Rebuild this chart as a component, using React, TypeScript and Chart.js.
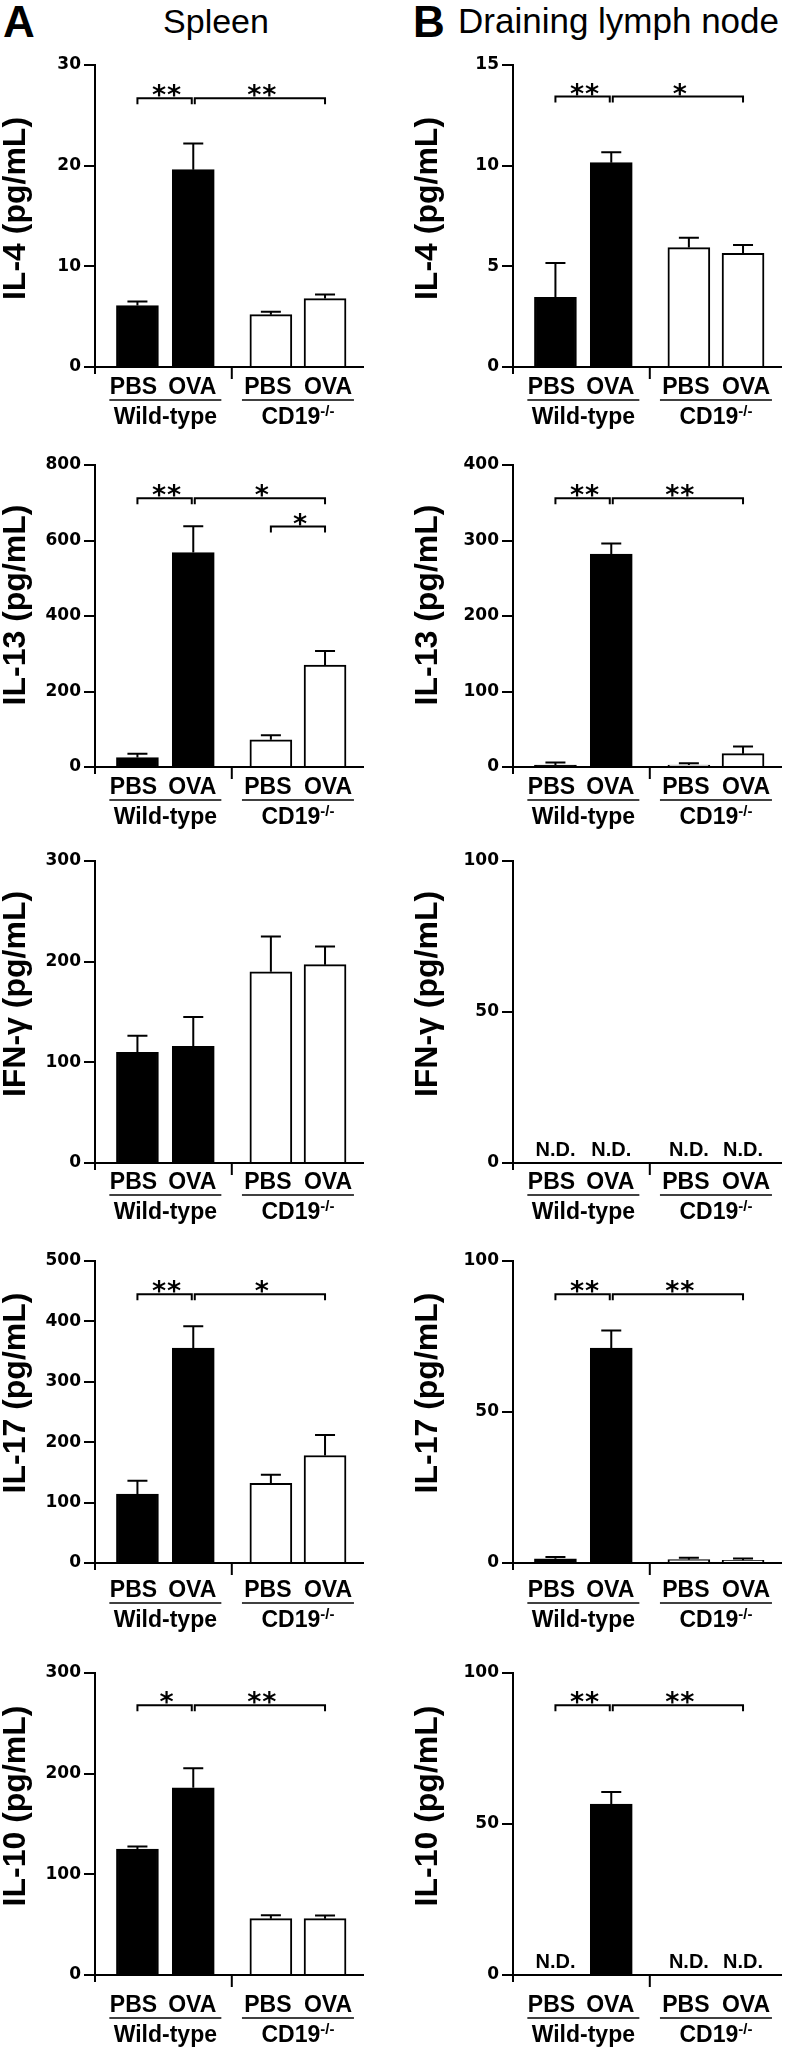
import React, { useEffect, useRef } from 'react';
import { Chart, registerables } from 'chart.js';

Chart.register(...registerables);

// ---------------- data ----------------
const conditions = ['PBS', 'OVA', 'PBS', 'OVA'];
const groups = ['Wild-type', 'CD19'];
const groupSup = ['', '-/-'];
const barPositions = [0.76, 1.76, 3.15, 4.12];
const dividerPosition = 2.45;
const barFill = ['#000000', '#000000', '#ffffff', '#ffffff'];

// A: Spleen
const spleenIL4 = [6.1, 19.6, 5.2, 6.8];
const spleenIL4Err = [0.4, 2.6, 0.3, 0.4];
const spleenIL13 = [25, 568, 72, 270];
const spleenIL13Err = [10, 70, 12, 37];
const spleenIFNg = [110, 116, 190, 197];
const spleenIFNgErr = [16.5, 29, 35, 18];
const spleenIL17 = [114, 356, 132, 178];
const spleenIL17Err = [22, 36, 14, 34];
const spleenIL10 = [125, 186, 56, 56];
const spleenIL10Err = [2.6, 19.5, 3.3, 3];

// B: Draining lymph node (null = N.D.)
const lnIL4 = [3.46, 10.15, 5.93, 5.65];
const lnIL4Err = [1.7, 0.52, 0.49, 0.41];
const lnIL13 = [2.6, 282, 2.6, 17.7];
const lnIL13Err = [3.2, 14, 2.4, 9.3];
const lnIFNg = [null, null, null, null];
const lnIFNgErr = [0, 0, 0, 0];
const lnIL17 = [1.4, 71.2, 1.1, 0.9];
const lnIL17Err = [0.6, 5.8, 0.6, 0.6];
const lnIL10 = [null, 56.6, null, null];
const lnIL10Err = [0, 4, 0, 0];

// significance brackets: bar index from/to, height (data units), number of stars
const spleenIL4Sig = [{ from: 0, to: 1, y: 26.7, stars: 2 }, { from: 1, to: 3, y: 26.7, stars: 2 }];
const spleenIL13Sig = [{ from: 0, to: 1, y: 712, stars: 2 }, { from: 1, to: 3, y: 712, stars: 1 }, { from: 2, to: 3, y: 637, stars: 1 }];
const spleenIL17Sig = [{ from: 0, to: 1, y: 445, stars: 2 }, { from: 1, to: 3, y: 445, stars: 1 }];
const spleenIL10Sig = [{ from: 0, to: 1, y: 268, stars: 1 }, { from: 1, to: 3, y: 268, stars: 2 }];
const lnIL4Sig = [{ from: 0, to: 1, y: 13.43, stars: 2 }, { from: 1, to: 3, y: 13.43, stars: 1 }];
const lnIL13Sig = [{ from: 0, to: 1, y: 356, stars: 2 }, { from: 1, to: 3, y: 356, stars: 2 }];
const lnIL17Sig = [{ from: 0, to: 1, y: 89, stars: 2 }, { from: 1, to: 3, y: 89, stars: 2 }];
const lnIL10Sig = [{ from: 0, to: 1, y: 89.3, stars: 2 }, { from: 1, to: 3, y: 89.3, stars: 2 }];

const yTitles = ['IL-4 (pg/mL)', 'IL-13 (pg/mL)', 'IFN-\u03b3 (pg/mL)', 'IL-17 (pg/mL)', 'IL-10 (pg/mL)'];
const spleenMax = [30, 800, 300, 500, 300];
const spleenStep = [10, 200, 100, 100, 100];
const lnMax = [15, 400, 100, 100, 100];
const lnStep = [5, 100, 50, 50, 50];

// ---------------- layout ----------------
const FONT = "'Liberation Sans', Arial, Helvetica, sans-serif";
const TICK_FONT = "'DejaVu Sans', sans-serif";
const PAD_TOP = 25;
const PLOT_H = 302;
const CANVAS_W = 393;
const CANVAS_H = 400;
const labelNudge = [-4, -1, -3, 3];

const rows = [
  { top: 65, condOff: 27, titleShift: -7.5 },
  { top: 465, condOff: 27, titleShift: -11 },
  { top: 861, condOff: 26, titleShift: -18 },
  { top: 1261, condOff: 34, titleShift: -19 },
  { top: 1673, condOff: 37, titleShift: -18 },
];
const cols = [
  { x: 0, axisLeft: 95, padRight: 30, titleBase: 24.5 },
  { x: 393, axisLeft: 120, padRight: 5, titleBase: 43.5 },
];

const panels = [
  { col: 0, row: 0, mean: spleenIL4, err: spleenIL4Err, sig: spleenIL4Sig },
  { col: 0, row: 1, mean: spleenIL13, err: spleenIL13Err, sig: spleenIL13Sig },
  { col: 0, row: 2, mean: spleenIFNg, err: spleenIFNgErr, sig: [] },
  { col: 0, row: 3, mean: spleenIL17, err: spleenIL17Err, sig: spleenIL17Sig },
  { col: 0, row: 4, mean: spleenIL10, err: spleenIL10Err, sig: spleenIL10Sig },
  { col: 1, row: 0, mean: lnIL4, err: lnIL4Err, sig: lnIL4Sig },
  { col: 1, row: 1, mean: lnIL13, err: lnIL13Err, sig: lnIL13Sig },
  { col: 1, row: 2, mean: lnIFNg, err: lnIFNgErr, sig: [] },
  { col: 1, row: 3, mean: lnIL17, err: lnIL17Err, sig: lnIL17Sig },
  { col: 1, row: 4, mean: lnIL10, err: lnIL10Err, sig: lnIL10Sig },
];

function makePlugin(p: any) {
  const row = rows[p.row];
  const col = cols[p.col];
  return {
    id: 'annotations',
    afterDatasetsDraw(chart: any) {
      const { ctx } = chart;
      const xs = chart.scales.x;
      const ys = chart.scales.y;
      ctx.save();
      ctx.strokeStyle = '#000';
      ctx.lineWidth = 2;
      p.mean.forEach((m: number | null, i: number) => {
        if (m == null || !p.err[i]) return;
        const x = xs.getPixelForValue(barPositions[i]);
        const y0 = ys.getPixelForValue(m);
        const y1 = ys.getPixelForValue(m + p.err[i]);
        ctx.beginPath();
        ctx.moveTo(x, y0);
        ctx.lineTo(x, y1);
        ctx.moveTo(x - 10, y1);
        ctx.lineTo(x + 10, y1);
        ctx.stroke();
      });
      ctx.restore();
    },
    afterDraw(chart: any) {
      const { ctx, chartArea } = chart;
      const xs = chart.scales.x;
      const ys = chart.scales.y;
      const base = ys.getPixelForValue(0);
      ctx.save();
      ctx.fillStyle = '#000';
      ctx.strokeStyle = '#000';

      // y-axis title
      ctx.save();
      ctx.translate(col.titleBase, (chartArea.top + chartArea.bottom) / 2 + row.titleShift);
      ctx.rotate(-Math.PI / 2);
      ctx.font = `bold 32px ${FONT}`;
      ctx.textAlign = 'center';
      ctx.textBaseline = 'alphabetic';
      ctx.fillText(yTitles[p.row], 0, 0);
      ctx.restore();

      // small x-axis ticks (y-axis extension and group divider)
      ctx.lineWidth = 2;
      ctx.beginPath();
      ctx.moveTo(chartArea.left, base);
      ctx.lineTo(chartArea.left, base + 7);
      const dx = xs.getPixelForValue(dividerPosition);
      ctx.moveTo(dx, base);
      ctx.lineTo(dx, base + 12);
      ctx.stroke();

      // condition labels
      ctx.textAlign = 'center';
      ctx.textBaseline = 'alphabetic';
      ctx.font = `bold 23px ${FONT}`;
      conditions.forEach((c, i) => {
        ctx.fillText(c, xs.getPixelForValue(barPositions[i]) + labelNudge[i], base + row.condOff);
      });

      // group underline and labels
      groups.forEach((g, gi) => {
        const mid = (xs.getPixelForValue(barPositions[gi * 2]) + xs.getPixelForValue(barPositions[gi * 2 + 1])) / 2;
        const uy = base + row.condOff + 6;
        ctx.lineWidth = 1.5;
        ctx.beginPath();
        ctx.moveTo(mid - 56, uy);
        ctx.lineTo(mid + 56, uy);
        ctx.stroke();
        const gy = base + row.condOff + 30;
        ctx.font = `bold 23px ${FONT}`;
        const w1 = ctx.measureText(g).width;
        ctx.font = `bold 15px ${FONT}`;
        const w2 = groupSup[gi] ? ctx.measureText(groupSup[gi]).width : 0;
        const sx = mid - (w1 + w2) / 2;
        ctx.textAlign = 'left';
        ctx.font = `bold 23px ${FONT}`;
        ctx.fillText(g, sx, gy);
        if (groupSup[gi]) {
          ctx.font = `bold 15px ${FONT}`;
          ctx.fillText(groupSup[gi], sx + w1, gy - 8);
        }
        ctx.textAlign = 'center';
      });

      // N.D. labels
      ctx.font = `bold 20px ${FONT}`;
      p.mean.forEach((m: number | null, i: number) => {
        if (m == null) ctx.fillText('N.D.', xs.getPixelForValue(barPositions[i]), base - 7);
      });

      // significance brackets
      ctx.lineWidth = 2;
      p.sig.forEach((b: any) => {
        let x1 = xs.getPixelForValue(barPositions[b.from]);
        let x2 = xs.getPixelForValue(barPositions[b.to]);
        if (p.sig.some((o: any) => o !== b && o.to === b.from)) x1 += 1.5;
        if (p.sig.some((o: any) => o !== b && o.from === b.to)) x2 -= 1.5;
        const y = ys.getPixelForValue(b.y);
        ctx.beginPath();
        ctx.moveTo(x1, y + 6);
        ctx.lineTo(x1, y);
        ctx.lineTo(x2, y);
        ctx.lineTo(x2, y + 6);
        ctx.stroke();
        ctx.font = `bold 27px ${TICK_FONT}`;
        const cx = (x1 + x2) / 2 + 2;
        for (let k = 0; k < b.stars; k++) {
          const sx = cx + (k - (b.stars - 1) / 2) * 15;
          ctx.fillText('*', sx, y + 6);
        }
      });
      ctx.restore();
    },
  };
}

function Panel({ p }: { p: any }) {
  const ref = useRef<HTMLCanvasElement | null>(null);
  const row = rows[p.row];
  const col = cols[p.col];
  const max = p.col === 0 ? spleenMax[p.row] : lnMax[p.row];
  const step = p.col === 0 ? spleenStep[p.row] : lnStep[p.row];

  useEffect(() => {
    if (!ref.current) return;
    const chart = new Chart(ref.current, {
      type: 'bar',
      data: {
        datasets: [
          {
            data: barPositions.map((x, i) => ({ x, y: p.mean[i] })),
            backgroundColor: barFill,
            borderColor: '#000',
            borderWidth: 2,
            barThickness: 42,
          } as any,
        ],
      },
      options: {
        animation: false,
        responsive: false,
        devicePixelRatio: 1,
        layout: { padding: { top: PAD_TOP, left: 0, right: col.padRight, bottom: 0 } },
        plugins: { legend: { display: false }, tooltip: { enabled: false } },
        scales: {
          x: {
            type: 'linear',
            display: true,
            offset: false,
            min: 0,
            max: 4.8,
            afterFit: (s: any) => {
              s.height = CANVAS_H - PAD_TOP - PLOT_H;
            },
            ticks: { display: false },
            grid: { display: false, offset: false },
            border: { display: true, width: 2, color: '#000' },
          },
          y: {
            min: 0,
            max,
            afterFit: (s: any) => {
              s.width = col.axisLeft;
            },
            ticks: {
              stepSize: step,
              color: '#000',
              padding: 3,
              font: { family: TICK_FONT, size: 17, weight: 'bold' },
            },
            grid: {
              display: true,
              drawOnChartArea: false,
              drawTicks: true,
              tickLength: 11,
              lineWidth: 2,
              tickWidth: 2,
              color: '#000',
            },
            border: { display: true, width: 2, color: '#000' },
          },
        },
      } as any,
      plugins: [makePlugin(p)],
    });
    return () => chart.destroy();
  }, []);

  return (
    <canvas
      ref={ref}
      width={CANVAS_W}
      height={CANVAS_H}
      style={{ position: 'absolute', left: col.x, top: row.top - PAD_TOP, width: CANVAS_W, height: CANVAS_H }}
    />
  );
}

export default function App() {
  return (
    <div
      style={{
        position: 'absolute',
        left: 0,
        top: 0,
        width: 786,
        height: 2050,
        overflow: 'hidden',
        background: '#fff',
        fontFamily: FONT,
        color: '#000',
      }}
    >
      <div style={{ position: 'absolute', left: 3, top: 0, fontSize: 44, lineHeight: '44px', fontWeight: 'bold' }}>A</div>
      <div style={{ position: 'absolute', left: 216, top: 4, transform: 'translateX(-50%)', fontSize: 34, lineHeight: '34px', whiteSpace: 'nowrap' }}>
        Spleen
      </div>
      <div style={{ position: 'absolute', left: 413, top: 0, fontSize: 44, lineHeight: '44px', fontWeight: 'bold' }}>B</div>
      <div style={{ position: 'absolute', left: 458, top: 3, fontSize: 35, lineHeight: '35px', whiteSpace: 'nowrap' }}>
        Draining lymph node
      </div>
      {panels.map((p, i) => (
        <Panel key={i} p={p} />
      ))}
    </div>
  );
}
